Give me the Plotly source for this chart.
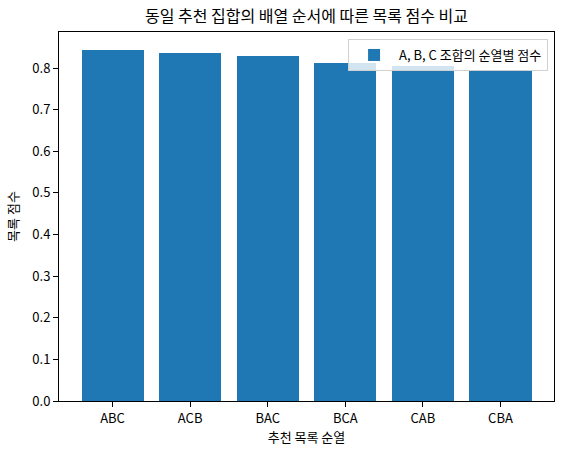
import plotly.graph_objects as go

# 순열별 목록 점수
permutations = ["ABC", "ACB", "BAC", "BCA", "CAB", "CBA"]
scores = [0.844, 0.837, 0.830, 0.813, 0.806, 0.796]
y_ticks = [0.0, 0.1, 0.2, 0.3, 0.4, 0.5, 0.6, 0.7, 0.8]

FONT = "Noto Sans CJK KR, Noto Sans, DejaVu Sans"
BLUE = "#1f77b4"

fig = go.Figure()

fig.add_trace(
    go.Bar(
        x=list(range(len(permutations))),
        y=scores,
        width=0.8,
        name="A, B, C 조합의 순열별 점수",
        marker=dict(color=BLUE, line=dict(width=0)),
    )
)

fig.update_layout(
    width=564,
    height=454,
    margin=dict(l=59, r=10, t=32, b=53),
    paper_bgcolor="white",
    plot_bgcolor="white",
    font=dict(family=FONT, size=13, color="black"),
    title=dict(
        text="동일 추천 집합의 배열 순서에 따른 목록 점수 비교",
        x=(59 + 554) / 2 / 564,
        xanchor="center",
        y=1 - 16 / 454,
        yanchor="middle",
        font=dict(size=16, color="black"),
    ),
    showlegend=True,
    legend=dict(
        x=0.988,
        y=0.981,
        xanchor="right",
        yanchor="top",
        bgcolor="rgba(255,255,255,0.8)",
        bordercolor="#d0d0d0",
        borderwidth=1,
        itemwidth=40,
        font=dict(size=13),
    ),
    bargap=0,
)

fig.update_xaxes(
    range=[-0.69, 5.69],
    tickvals=list(range(len(permutations))),
    ticktext=permutations,
    ticks="outside",
    ticklen=5,
    tickcolor="black",
    showline=True,
    linecolor="black",
    linewidth=1,
    mirror=True,
    showgrid=False,
    zeroline=False,
    automargin=False,
    title=dict(text="추천 목록 순열", font=dict(size=13), standoff=4),
)

fig.update_yaxes(
    range=[0, 0.8865],
    tickvals=y_ticks,
    ticktext=[f"{v:.1f}" for v in y_ticks],
    ticks="outside",
    ticklen=5,
    tickcolor="black",
    showline=True,
    linecolor="black",
    linewidth=1,
    mirror=True,
    showgrid=False,
    zeroline=False,
    automargin=False,
    title=dict(text="목록 점수", font=dict(size=13), standoff=10),
)

fig.write_html(
    "out.html",
    config={"displayModeBar": False},
    post_script="document.body.style.margin='0';",
)
